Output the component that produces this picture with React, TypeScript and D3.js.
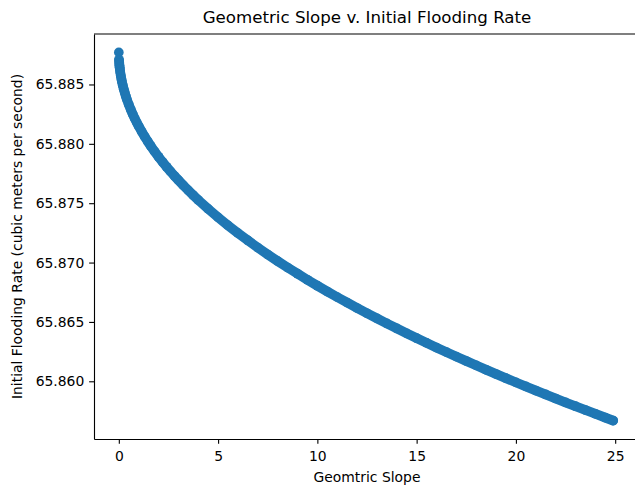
import { useEffect, useRef } from 'react';
import * as d3 from 'd3';

// geometric slope (x) and initial flooding rate (y)
const slope = [
  0, 0.01, 0.02, 0.03, 0.04, 0.05, 0.07, 0.1, 0.13, 0.16, 0.2, 0.25, 0.3, 0.35, 0.4,
  0.5, 0.6, 0.7, 0.8, 0.9, 1.0, 1.15, 1.3, 1.45, 1.6, 1.8, 2.0, 2.2, 2.4, 2.6, 2.8,
  3.0, 3.25, 3.5, 3.75, 4.0, 4.5, 5.0, 5.5, 6.0, 6.5, 7.0, 7.5, 8.0, 8.5, 9.0, 9.5,
  10, 10.5, 11, 11.5, 12, 12.5, 13, 13.5, 14, 14.5, 15, 15.5, 16, 16.5, 17, 17.5,
  18, 18.5, 19, 19.5, 20, 20.5, 21, 21.5, 22, 22.5, 23, 23.5, 24, 24.5, 24.9,
];
const floodRate = [
  65.8877, 65.88708, 65.88682, 65.88662, 65.88646, 65.88631, 65.88606, 65.88574,
  65.88546, 65.88521, 65.88492, 65.88459, 65.8843, 65.88402, 65.88377, 65.88331,
  65.88289, 65.8825, 65.88214, 65.88181, 65.88149, 65.88104, 65.88062, 65.88022,
  65.87984, 65.87936, 65.87891, 65.87848, 65.87807, 65.87768, 65.8773, 65.87694,
  65.8765, 65.87608, 65.87567, 65.87527, 65.87452, 65.87381, 65.87313, 65.87248,
  65.87186, 65.87126, 65.87068, 65.87012, 65.86958, 65.86906, 65.86855, 65.86805,
  65.86756, 65.86709, 65.86663, 65.86617, 65.86573, 65.8653, 65.86487, 65.86445,
  65.86404, 65.86363, 65.86324, 65.86284, 65.86246, 65.86208, 65.86171, 65.86134,
  65.86097, 65.86061, 65.86026, 65.85991, 65.85957, 65.85922, 65.85889, 65.85855,
  65.85822, 65.8579, 65.85758, 65.85726, 65.85694, 65.85669,
];
const xTicks = [0, 5, 10, 15, 20, 25];
const yTicks = [65.86, 65.865, 65.87, 65.875, 65.88, 65.885];

const App = () => {
  const ref = useRef<SVGSVGElement>(null);

  useEffect(() => {
    const width = 635;
    const height = 489;
    const margin = { top: 34, right: -5, bottom: 50, left: 94 };
    const font = 'DejaVu Sans, sans-serif';
    const color = '#1f77b4';

    const svg = d3.select(ref.current);
    svg.selectAll('*').remove();

    const data = slope.map((s, i) => ({ x: s, y: floodRate[i] }));

    const xScale = d3.scaleLinear()
      .domain([-1.25, 26.25])
      .range([margin.left, width - margin.right]);

    const [yMin, yMax] = d3.extent(floodRate) as [number, number];
    const pad = (yMax - yMin) * 0.05;
    const yScale = d3.scaleLinear()
      .domain([yMin - pad, yMax + pad])
      .range([height - margin.bottom, margin.top]);

    // points (a band underneath closes the gaps between markers,
    // the first point stays a separate dot as in the original)
    const line = d3.line<{ x: number; y: number }>()
      .x(d => xScale(d.x))
      .y(d => yScale(d.y));
    svg.append('path')
      .datum(data.slice(1))
      .attr('fill', 'none')
      .attr('stroke', color)
      .attr('stroke-width', 9.7)
      .attr('stroke-linecap', 'round')
      .attr('stroke-linejoin', 'round')
      .attr('d', line);

    svg.append('g')
      .selectAll('circle')
      .data(data)
      .join('circle')
      .attr('cx', d => xScale(d.x))
      .attr('cy', d => yScale(d.y))
      .attr('r', 4.86)
      .attr('fill', color);

    const xAxis = svg.append('g')
      .attr('transform', `translate(0,${height - margin.bottom})`)
      .call(d3.axisBottom(xScale).tickValues(xTicks).tickFormat(d3.format('d'))
        .tickSize(4.86).tickSizeOuter(0).tickPadding(4.86));
    xAxis.selectAll('text').attr('dy', '0.87em');

    const yAxis = svg.append('g')
      .attr('transform', `translate(${margin.left},0)`)
      .call(d3.axisLeft(yScale).tickValues(yTicks).tickFormat(d3.format('.3f'))
        .tickSize(4.86).tickSizeOuter(0).tickPadding(4.86));

    [xAxis, yAxis].forEach(ax => {
      ax.attr('font-family', font).attr('font-size', 13.9);
      ax.selectAll('line').attr('stroke', '#000').attr('stroke-width', 1.11);
      ax.selectAll('path').attr('stroke', '#000').attr('stroke-width', 1.11);
      ax.selectAll('text').attr('fill', '#000');
    });

    // top spine
    svg.append('line')
      .attr('x1', margin.left)
      .attr('x2', width - margin.right)
      .attr('y1', margin.top)
      .attr('y2', margin.top)
      .attr('stroke', '#000')
      .attr('stroke-width', 1.11);

    svg.append('text')
      .attr('x', (margin.left + width - margin.right) / 2)
      .attr('y', 23)
      .attr('text-anchor', 'middle')
      .attr('font-family', font)
      .attr('font-size', 16.67)
      .text('Geometric Slope v. Initial Flooding Rate');

    svg.append('text')
      .attr('x', (margin.left + width - margin.right) / 2)
      .attr('y', 482)
      .attr('text-anchor', 'middle')
      .attr('font-family', font)
      .attr('font-size', 13.9)
      .text('Geomtric Slope');

    svg.append('text')
      .attr('transform', `translate(21.5,${(margin.top + height - margin.bottom) / 2}) rotate(-90)`)
      .attr('text-anchor', 'middle')
      .attr('font-family', font)
      .attr('font-size', 13.9)
      .text('Initial Flooding Rate (cubic meters per second)');
  }, []);

  return (
    <svg
      ref={ref}
      width={635}
      height={489}
      style={{ position: 'absolute', left: 0, top: 0, background: '#fff' }}
    />
  );
};

export default App;
